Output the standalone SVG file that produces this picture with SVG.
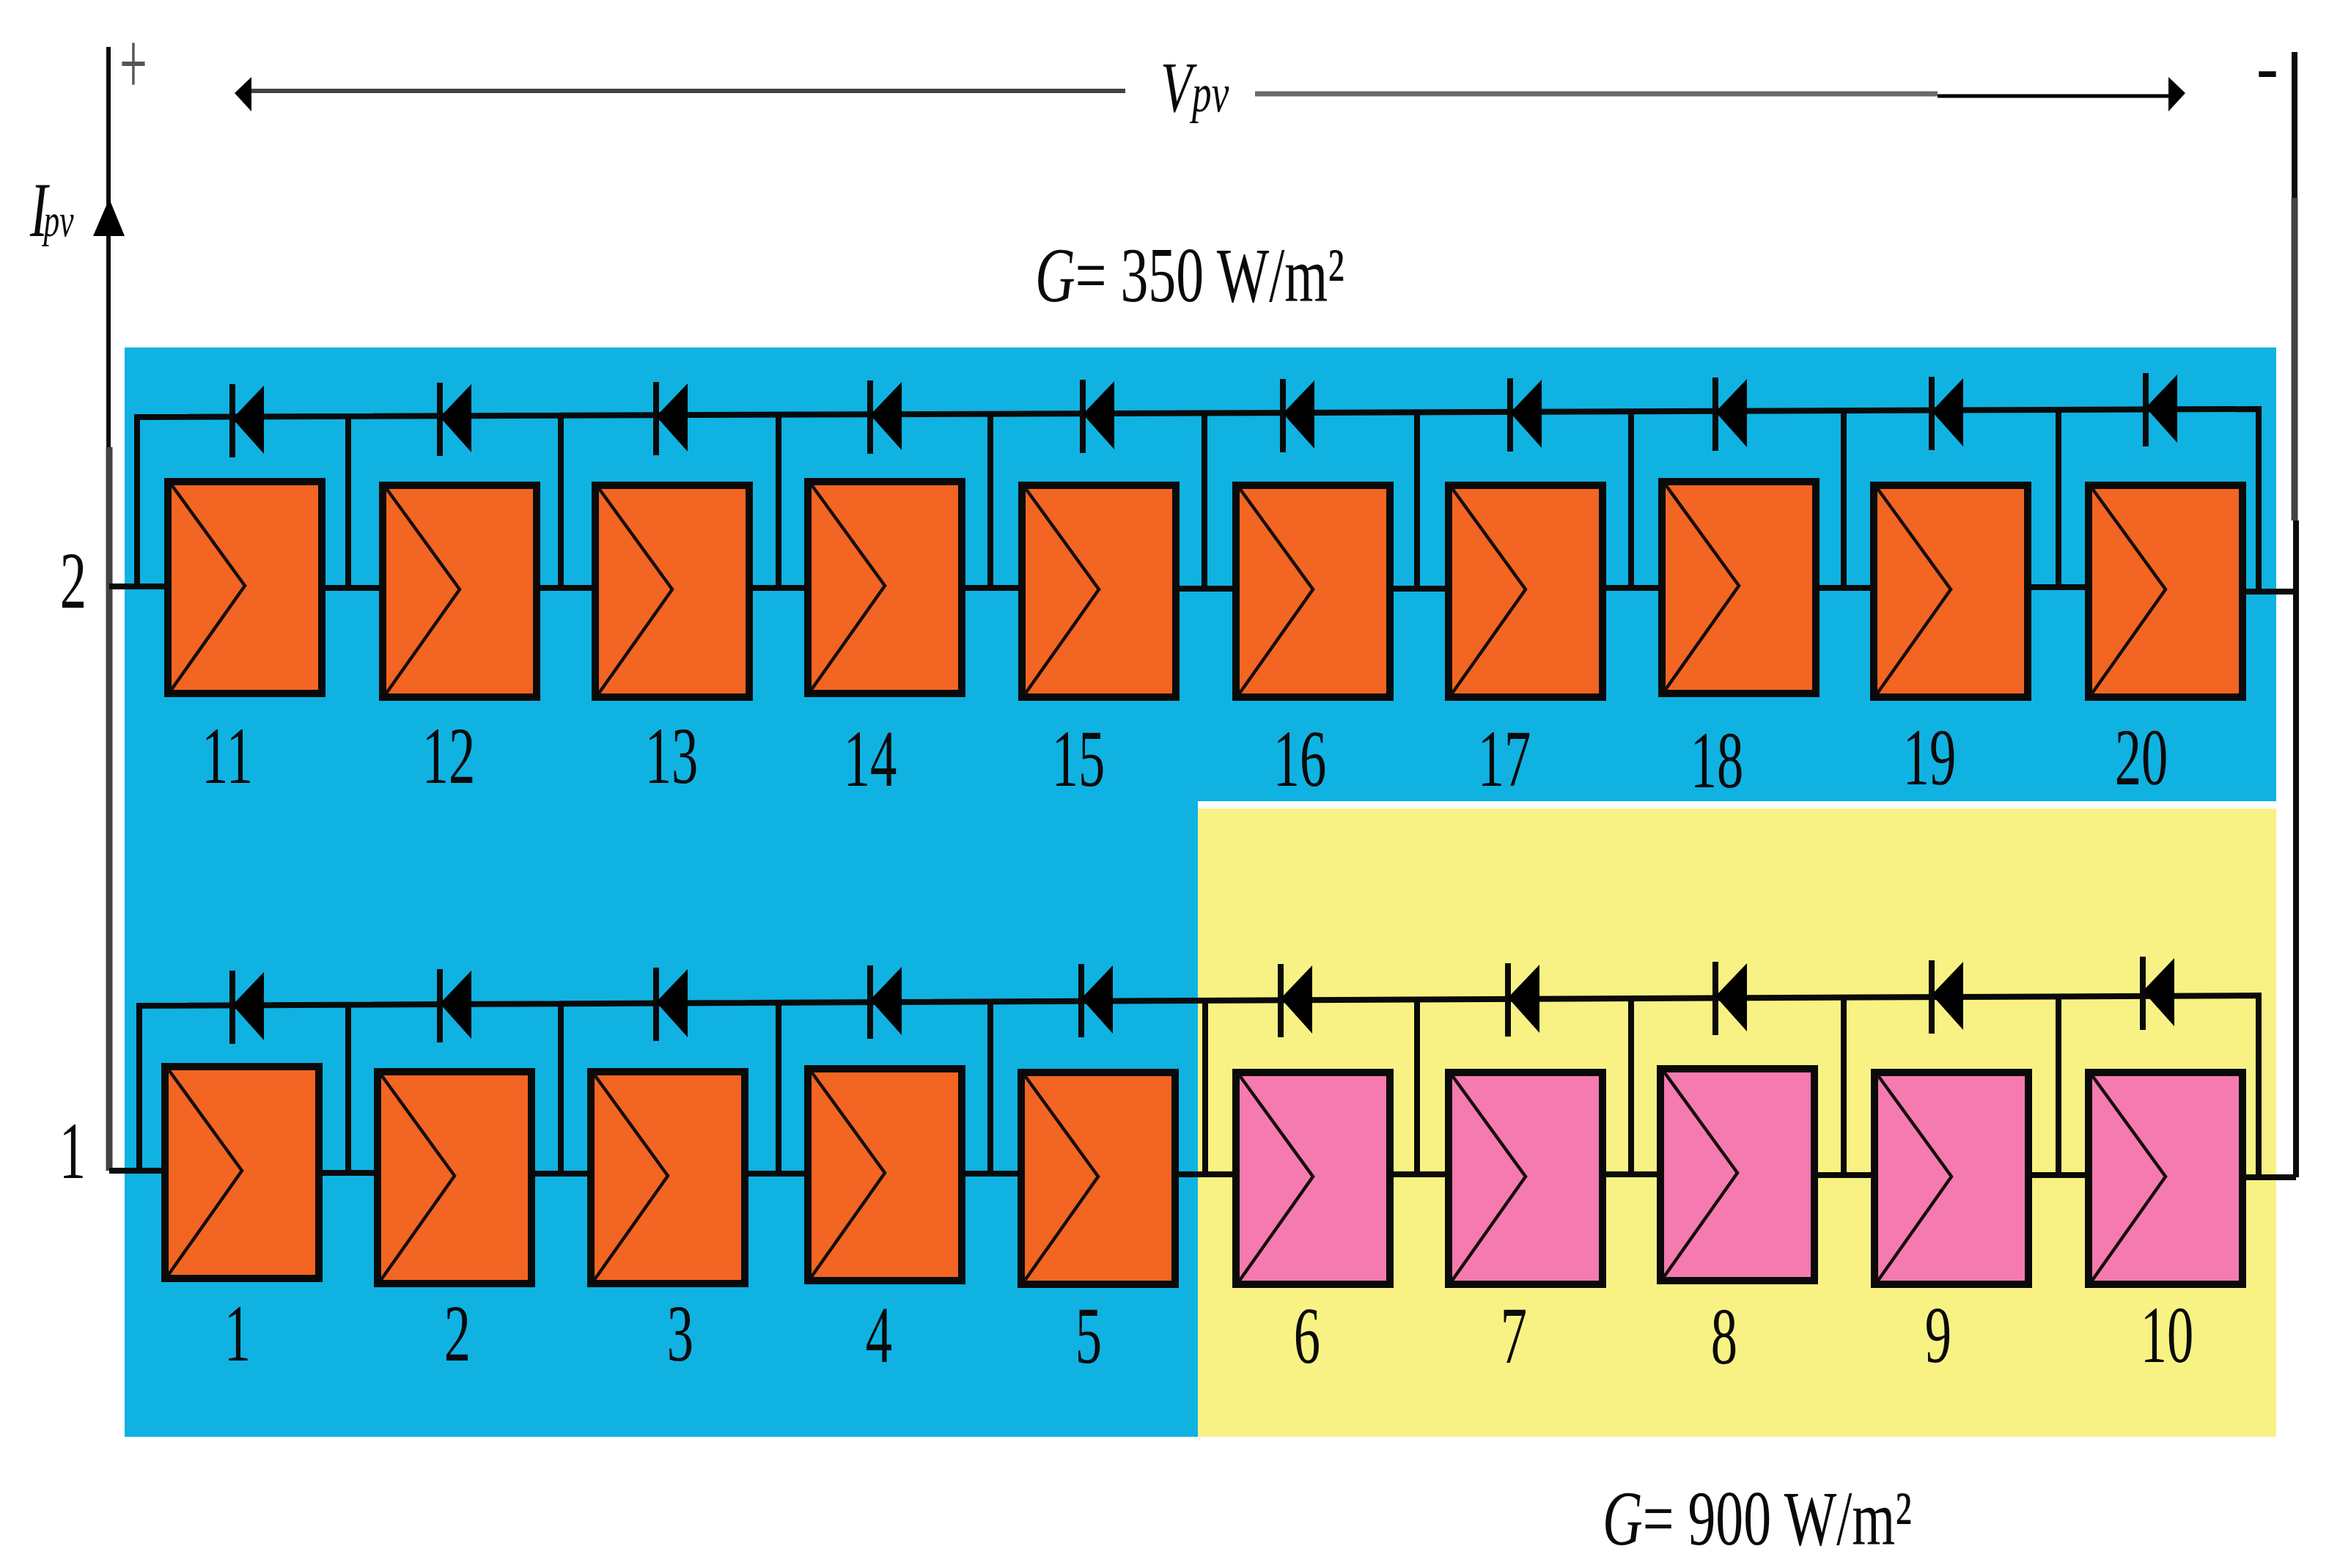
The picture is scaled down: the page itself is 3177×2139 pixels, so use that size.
<svg xmlns="http://www.w3.org/2000/svg" xmlns:xlink="http://www.w3.org/1999/xlink" width="3177" height="2139" viewBox="0 0 3177 2139">
<style>
text{font-family:"Liberation Serif","Times New Roman",serif;fill:#0a0a0a}
.n{font-size:110px;text-anchor:middle}
.o{fill:#f26522}
.p{fill:#f47ab0}
.w{fill:none;stroke:#0a0a0a;stroke-width:8}
.g{fill:none;stroke:#424444;stroke-width:9}
.t{fill:none;stroke:#0a0a0a;stroke-width:8}
.box{stroke:#0a0a0a;stroke-width:10}
.chev{fill:none;stroke:#140c0a;stroke-width:4.5}
.db{stroke:#0a0a0a;stroke-width:8;fill:none}
</style>
<defs>
<g id="mod"><rect class="box" x="4" y="5" width="210" height="289"/><path class="chev" d="M8 8L109 147L8 290"/></g>
<g id="diode"><line class="db" x1="0" y1="-50" x2="0" y2="50"/><path d="M0 -3L43 -48L43 45Z" fill="#000"/></g>
</defs>
<rect width="3177" height="2139" fill="#fff"/>
<g id="backgrounds">
<rect x="170" y="474" width="2935" height="1486" fill="#10b2e2"/>
<rect x="1634" y="1093" width="1471" height="12" fill="#fff"/>
<rect x="1634" y="1103" width="1471" height="857" fill="#f8f285"/>
</g>
<g id="connectors">
<path class="g" d="M149 610V1597"/>
<path fill="none" stroke="#0a0a0a" stroke-width="6" d="M148 64V610"/>
<path class="w" d="M3130 71V270"/>
<path class="g" d="M3130 270V710"/>
<path class="w" d="M3132 710V1606"/>
<path class="w" d="M149 800H225M443 802H518M736 802H808M1026 802H1098M1316 802H1390M1608 803H1682M1900 803H1972M2190 802H2263M2481 802H2552M2771 801H2845M3061 807H3130"/>
<path class="w" d="M149 1597H221M439 1600H511M729 1601H802M1020 1601H1098M1316 1601H1389M1607 1602H1682M1900 1602H1972M2190 1602H2261M2479 1603H2553M2771 1603H2845M3063 1606H3132"/>
<path class="t" d="M187 800V569L3081 558V807"/>
<path class="t" d="M475 802V568M765 802V567M1062 802V566M1351 802V565M1643 803V564M1933 803V563M2225 802V562M2515 802V561M2808 802V559"/>
<path class="t" d="M190 1597V1372L3081 1358V1606"/>
<path class="t" d="M475 1600V1371M765 1601V1370M1062 1601V1368M1351 1601V1367M1644 1602V1365M1933 1602V1364M2225 1602V1362M2515 1603V1361M2808 1603V1359"/>
<use href="#diode" transform="translate(317,574)"/><use href="#diode" transform="translate(600,572)"/><use href="#diode" transform="translate(895,571)"/><use href="#diode" transform="translate(1187,569)"/><use href="#diode" transform="translate(1477,568)"/><use href="#diode" transform="translate(1750,567)"/><use href="#diode" transform="translate(2060,566)"/><use href="#diode" transform="translate(2340,565)"/><use href="#diode" transform="translate(2635,564)"/><use href="#diode" transform="translate(2927,559)"/>
<use href="#diode" transform="translate(317,1374)"/><use href="#diode" transform="translate(600,1372)"/><use href="#diode" transform="translate(895,1370)"/><use href="#diode" transform="translate(1187,1367)"/><use href="#diode" transform="translate(1475,1365)"/><use href="#diode" transform="translate(1747,1365)"/><use href="#diode" transform="translate(2057,1364)"/><use href="#diode" transform="translate(2340,1362)"/><use href="#diode" transform="translate(2635,1360)"/><use href="#diode" transform="translate(2923,1355)"/>
<path d="M149 271L170 322H127Z" fill="#000"/>
<path class="g" style="stroke-width:6" d="M343 124H1535"/>
<path d="M320 127L343 105V152Z" fill="#000"/>
<path class="g" style="stroke:#6a6a6a;stroke-width:7" d="M1712 128H2643"/>
<path fill="none" stroke="#000" stroke-width="5" d="M2643 131H2960"/>
<path d="M2981 127L2958 105V152Z" fill="#000"/>
</g>
<g id="m11" class="o"><use href="#mod" transform="translate(225,652)"/><text class="n" transform="translate(310,1068) scale(.66,1)">11</text></g>
<g id="m12" class="o"><use href="#mod" transform="translate(518,657)"/><text class="n" transform="translate(612,1068) scale(.66,1)">12</text></g>
<g id="m13" class="o"><use href="#mod" transform="translate(808,657)"/><text class="n" transform="translate(916,1068) scale(.66,1)">13</text></g>
<g id="m14" class="o"><use href="#mod" transform="translate(1098,652)"/><text class="n" transform="translate(1187,1072) scale(.66,1)">14</text></g>
<g id="m15" class="o"><use href="#mod" transform="translate(1390,657)"/><text class="n" transform="translate(1471,1072) scale(.66,1)">15</text></g>
<g id="m16" class="o"><use href="#mod" transform="translate(1682,657)"/><text class="n" transform="translate(1773,1072) scale(.66,1)">16</text></g>
<g id="m17" class="o"><use href="#mod" transform="translate(1972,657)"/><text class="n" transform="translate(2052,1072) scale(.66,1)">17</text></g>
<g id="m18" class="o"><use href="#mod" transform="translate(2263,652)"/><text class="n" transform="translate(2342,1074) scale(.66,1)">18</text></g>
<g id="m19" class="o"><use href="#mod" transform="translate(2552,657)"/><text class="n" transform="translate(2632,1070) scale(.66,1)">19</text></g>
<g id="m20" class="o"><use href="#mod" transform="translate(2845,657)"/><text class="n" transform="translate(2921,1070) scale(.66,1)">20</text></g>
<g id="m1" class="o"><use href="#mod" transform="translate(221,1450)"/><text class="n" transform="translate(324,1856) scale(.66,1)">1</text></g>
<g id="m2" class="o"><use href="#mod" transform="translate(511,1457)"/><text class="n" transform="translate(624,1856) scale(.66,1)">2</text></g>
<g id="m3" class="o"><use href="#mod" transform="translate(802,1457)"/><text class="n" transform="translate(928,1856) scale(.66,1)">3</text></g>
<g id="m4" class="o"><use href="#mod" transform="translate(1098,1453)"/><text class="n" transform="translate(1199,1858) scale(.66,1)">4</text></g>
<g id="m5" class="o"><use href="#mod" transform="translate(1389,1458)"/><text class="n" transform="translate(1485,1859) scale(.66,1)">5</text></g>
<g id="m6" class="p"><use href="#mod" transform="translate(1682,1458)"/><text class="n" transform="translate(1783,1859) scale(.66,1)">6</text></g>
<g id="m7" class="p"><use href="#mod" transform="translate(1972,1458)"/><text class="n" transform="translate(2065,1859) scale(.66,1)">7</text></g>
<g id="m8" class="p"><use href="#mod" transform="translate(2261,1453)"/><text class="n" transform="translate(2352,1860) scale(.66,1)">8</text></g>
<g id="m9" class="p"><use href="#mod" transform="translate(2553,1458)"/><text class="n" transform="translate(2644,1858) scale(.66,1)">9</text></g>
<g id="m10" class="p"><use href="#mod" transform="translate(2845,1458)"/><text class="n" transform="translate(2956,1858) scale(.66,1)">10</text></g>
<g id="labels">
<text class="n" transform="translate(100,829) scale(.66,1)">2</text>
<text class="n" transform="translate(99,1607) scale(.66,1)">1</text>
<text transform="translate(41,322) scale(.68,1)" font-size="106" font-style="italic">I<tspan font-size="64" dx="-8">pv</tspan></text>
<text transform="translate(1583,152) scale(.72,1)" font-size="98" font-style="italic">V<tspan font-size="74">pv</tspan></text>
<text x="1412" y="411" font-size="106" textLength="422" lengthAdjust="spacingAndGlyphs"><tspan font-style="italic">G</tspan>= 350 W/m²</text>
<text x="2186" y="2107" font-size="106" textLength="422" lengthAdjust="spacingAndGlyphs"><tspan font-style="italic">G</tspan>= 900 W/m²</text>
<text transform="translate(182,128) scale(.55,1)" font-size="122" text-anchor="middle" style="fill:#555">+</text>
<text x="3093" y="123" font-size="90" font-weight="bold" text-anchor="middle">-</text>
</g>
</svg>
